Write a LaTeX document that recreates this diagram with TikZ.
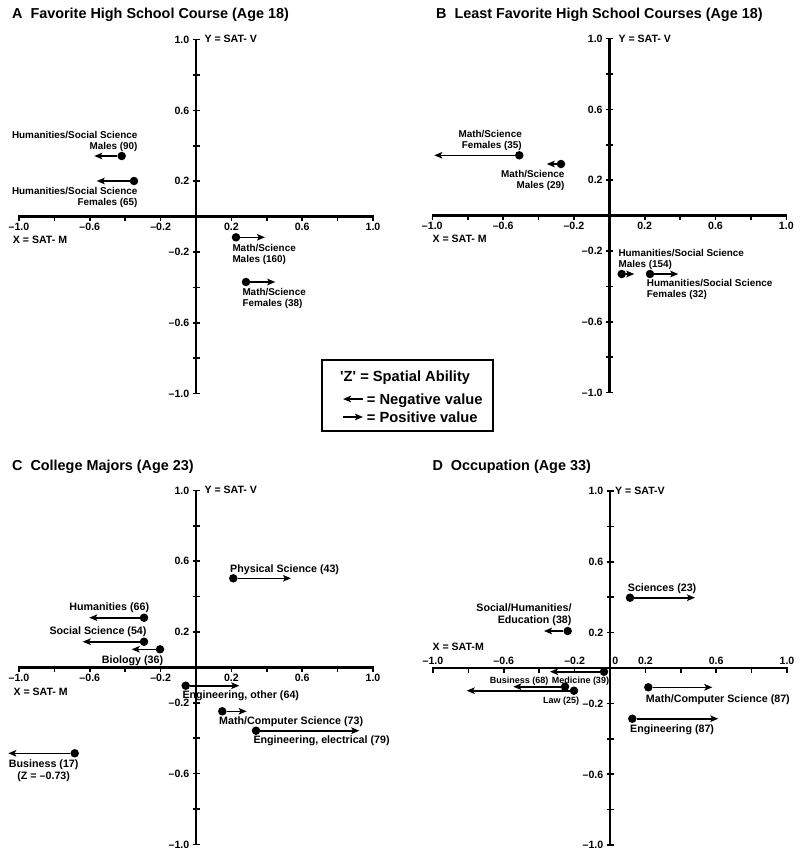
\documentclass[tikz,border=0pt]{standalone}
\usepackage{fontspec}
\setmainfont{Liberation Sans}
\usetikzlibrary{arrows.meta}
\newcommand\plotaxes[4]{%
  \draw[axis] (#1-177,#2) -- (#1+177,#2);
  \draw[axis] (#1,#2-177) -- (#1,#2+177);
  \foreach \k in {-5,...,5}{\ifnum\k=0\else
    \draw[tickline] (#1+\k*35.4,#2-1.5) -- (#1+\k*35.4,#2+4.5);
    \draw[tickline] (#1-3.5,#2+\k*35.4) -- (#1+3.5,#2+\k*35.4);\fi}
  \foreach \k/\t [count=\n] in {-5/{–1.0},-3/{–0.6},-1/{–0.2},1/0.2,3/0.6,5/1.0}
    \node[ticklab, anchor=base] (#3xl\n) at (#1+\k*35.4,#2+#4) {\t};
  \foreach \k/\t [count=\n] in {-5/1.0,-3/0.6,-1/0.2,1/{–0.2},3/{–0.6},5/{–1.0}}
    \node[ticklab, anchor=base east] (#3yl\n) at (#1-6.5,#2+\k*35.4+3.8) {\t};
}
\begin{document}
\begin{tikzpicture}[x=1pt,y=-1pt,
  every node/.style={inner sep=0pt, font=\bfseries},
  axis/.style={line width=2.4pt},
  tickline/.style={line width=1.6pt},
  dot/.style={circle, fill=black, inner sep=0pt, minimum size=8.5pt},
  arr/.style={line width=1.6pt, -{Stealth[length=8pt,width=6.5pt,inset=1.8pt]}},
  ttl/.style={font=\fontsize{14.4}{17}\selectfont\bfseries},
  ticklab/.style={font=\fontsize{10.6}{12}\selectfont\bfseries},
  lab/.style={font=\fontsize{9.9}{11}\selectfont\bfseries},
  labc/.style={font=\fontsize{10.7}{12}\selectfont\bfseries},
  labs/.style={font=\fontsize{9}{10}\selectfont\bfseries},
  leg/.style={font=\fontsize{14.7}{17}\selectfont\bfseries},
]
\useasboundingbox (0,0) rectangle (800,855);

% ---------------- Titles
\node[ttl, anchor=base west] (tA) at (12,18.5) {A\hspace{0.55em}Favorite High School Course (Age 18)};
\node[ttl, anchor=base west] (tB) at (436,18.5) {B\hspace{0.55em}Least Favorite High School Courses (Age 18)};
\node[ttl, anchor=base west] (tC) at (12,470.2) {C\hspace{0.55em}College Majors (Age 23)};
\node[ttl, anchor=base west] (tD) at (432.3,470.2) {D\hspace{0.55em}Occupation (Age 33)};

% ---------------- Axes
\plotaxes{196}{216.5}{A}{14}
\plotaxes{609.3}{215.5}{B}{14}
\plotaxes{196}{667.3}{C}{14}
\plotaxes{610}{668}{D}{-3.5}
\node[ticklab, anchor=base] (Dzero) at (615.3,664.5) {0};

\node[ticklab, anchor=base west] (yA) at (204.3,42.8) {Y = SAT- V};
\node[ticklab, anchor=base west] (xA) at (12.7,243.8) {X = SAT- M};
\node[ticklab, anchor=base west] (yB) at (618.3,42.8) {Y = SAT- V};
\node[ticklab, anchor=base west] (xB) at (432.3,242.8) {X = SAT- M};
\node[ticklab, anchor=base west] (yC) at (204.3,493.8) {Y = SAT- V};
\node[ticklab, anchor=base west] (xC) at (13.3,695.5) {X = SAT- M};
\node[ticklab, anchor=base west] (yD) at (615,494.5) {Y = SAT-V};
\node[ticklab, anchor=base west] (xD) at (432.3,650.5) {X = SAT-M};

% ---------------- Panel A
\node[dot] (dA1) at (121.7,156) {};
\coordinate (eA1) at (94.3,156);
\draw[arr] (dA1) -- (eA1);
\node[lab, align=right, anchor=north east] (lA1) at (137.7,131.3) {Humanities/Social Science\\Males (90)};
\node[dot] (dA2) at (134,181) {};
\coordinate (eA2) at (96.7,181);
\draw[arr] (dA2) -- (eA2);
\node[lab, align=right, anchor=north east] (lA2) at (137.7,187.3) {Humanities/Social Science\\Females (65)};
\node[dot] (dA3) at (236,237.3) {};
\coordinate (eA3) at (265,237.3);
\draw[arr] (dA3) -- (eA3);
\node[lab, align=left, anchor=north west] (lA3) at (232.3,244) {Math/Science\\Males (160)};
\node[dot] (dA4) at (246,282) {};
\coordinate (eA4) at (275.3,282);
\draw[arr] (dA4) -- (eA4);
\node[lab, align=left, anchor=north west] (lA4) at (242.3,288.3) {Math/Science\\Females (38)};

% ---------------- Panel B
\node[dot] (dB1) at (519.3,155.3) {};
\coordinate (eB1) at (434.3,155.3);
\draw[arr] (dB1) -- (eB1);
\node[lab, align=right, anchor=north east] (lB1) at (522,130.3) {Math/Science\\Females (35)};
\node[dot] (dB2) at (561,164) {};
\coordinate (eB2) at (546.7,164);
\draw[arr] (dB2) -- (eB2);
\node[lab, align=right, anchor=north east] (lB2) at (564.7,170.3) {Math/Science\\Males (29)};
\node[dot] (dB3) at (621.7,274) {};
\coordinate (eB3) at (634.3,274);
\draw[arr] (dB3) -- (eB3);
\node[lab, align=left, anchor=north west] (lB3) at (618.3,249) {Humanities/Social Science\\Males (154)};
\node[dot] (dB4) at (650,274) {};
\coordinate (eB4) at (678.3,274);
\draw[arr] (dB4) -- (eB4);
\node[lab, align=left, anchor=north west] (lB4) at (646.7,279) {Humanities/Social Science\\Females (32)};

% ---------------- Legend
\node[draw, line width=1.6pt, minimum width=171pt, minimum height=71pt] (legend) at (407.35,395.5) {};
\node[leg, anchor=base west] (legT) at (340,381) {\textquotesingle Z\textquotesingle{} = Spatial Ability};
\coordinate (lgN1) at (363,399);
\coordinate (lgN2) at (343,399);
\draw[arr] (lgN1) -- (lgN2);
\node[leg, anchor=base west] (legN) at (366.7,404.3) {= Negative value};
\coordinate (lgP1) at (343,417);
\coordinate (lgP2) at (363,417);
\draw[arr] (lgP1) -- (lgP2);
\node[leg, anchor=base west] (legP) at (366.7,422.3) {= Positive value};

% ---------------- Panel C
\node[dot] (dC1) at (233.3,578.3) {};
\coordinate (eC1) at (291,578.3);
\draw[arr] (dC1) -- (eC1);
\node[labc, anchor=base west] (lC1) at (230,572.1) {Physical Science (43)};
\node[dot] (dC2) at (144,617.7) {};
\coordinate (eC2) at (89.3,617.7);
\draw[arr] (dC2) -- (eC2);
\node[labc, anchor=base east] (lC2) at (149.3,610.5) {Humanities (66)};
\node[dot] (dC3) at (144,641.7) {};
\coordinate (eC3) at (82.7,641.7);
\draw[arr] (dC3) -- (eC3);
\node[labc, anchor=base east] (lC3) at (146.7,634.8) {Social Science (54)};
\node[dot] (dC4) at (160,649.3) {};
\coordinate (eC4) at (131.7,649.3);
\draw[arr] (dC4) -- (eC4);
\node[labc, anchor=base] (lC4) at (132.5,663.8) {Biology (36)};
\node[dot] (dC5) at (185.7,685.7) {};
\coordinate (eC5) at (239.3,685.7);
\draw[arr] (dC5) -- (eC5);
\node[labc, anchor=base west] (lC5) at (182.3,698.8) {Engineering, other (64)};
\node[dot] (dC6) at (222.3,711.3) {};
\coordinate (eC6) at (246.7,711.3);
\draw[arr] (dC6) -- (eC6);
\node[labc, anchor=base west] (lC6) at (219,724.8) {Math/Computer Science (73)};
\node[dot] (dC7) at (256,730.7) {};
\coordinate (eC7) at (359.3,730.7);
\draw[arr] (dC7) -- (eC7);
\node[labc, anchor=base west] (lC7) at (253.3,743.8) {Engineering, electrical (79)};
\node[dot] (dC8) at (74.7,753.3) {};
\coordinate (eC8) at (8.3,753.3);
\draw[arr] (dC8) -- (eC8);
\node[labc, align=center, anchor=north] (lC8) at (43.7,759.3) {Business (17)\\(Z = –0.73)};

% ---------------- Panel D
\node[dot] (dD1) at (630,597.7) {};
\coordinate (eD1) at (695,597.7);
\draw[arr] (dD1) -- (eD1);
\node[labc, anchor=base west] (lD1) at (627.7,591.5) {Sciences (23)};
\node[dot] (dD2) at (567.7,631) {};
\coordinate (eD2) at (544,631);
\draw[arr] (dD2) -- (eD2);
\node[labc, align=right, anchor=north east] (lD2) at (571.7,603.7) {Social/Humanities/\\Education (38)};
\node[dot] (dD3) at (604,671.7) {};
\coordinate (eD3) at (550,671.7);
\draw[arr] (dD3) -- (eD3);
\node[labs, anchor=base] (lD3) at (580.5,683.2) {Medicine (39)};
\node[dot] (dD4) at (565,686.7) {};
\coordinate (eD4) at (513.3,686.7);
\draw[arr] (dD4) -- (eD4);
\node[labs, anchor=base] (lD4) at (519.2,683.2) {Business (68)};
\node[dot] (dD5) at (574,690.7) {};
\coordinate (eD5) at (466.7,690.7);
\draw[arr] (dD5) -- (eD5);
\node[labs, anchor=base] (lD5) at (561.2,703.2) {Law (25)};
\node[dot] (dD6) at (648.3,687.3) {};
\coordinate (eD6) at (712.3,687.3);
\draw[arr] (dD6) -- (eD6);
\node[labc, anchor=base west] (lD6) at (645.7,702.1) {Math/Computer Science (87)};
\node[dot] (dD7) at (632.3,718.7) {};
\coordinate (eD7) at (718.3,718.7);
\draw[arr] (dD7) -- (eD7);
\node[labc, anchor=base west] (lD7) at (630,732.1) {Engineering (87)};
\end{tikzpicture}
\end{document}
